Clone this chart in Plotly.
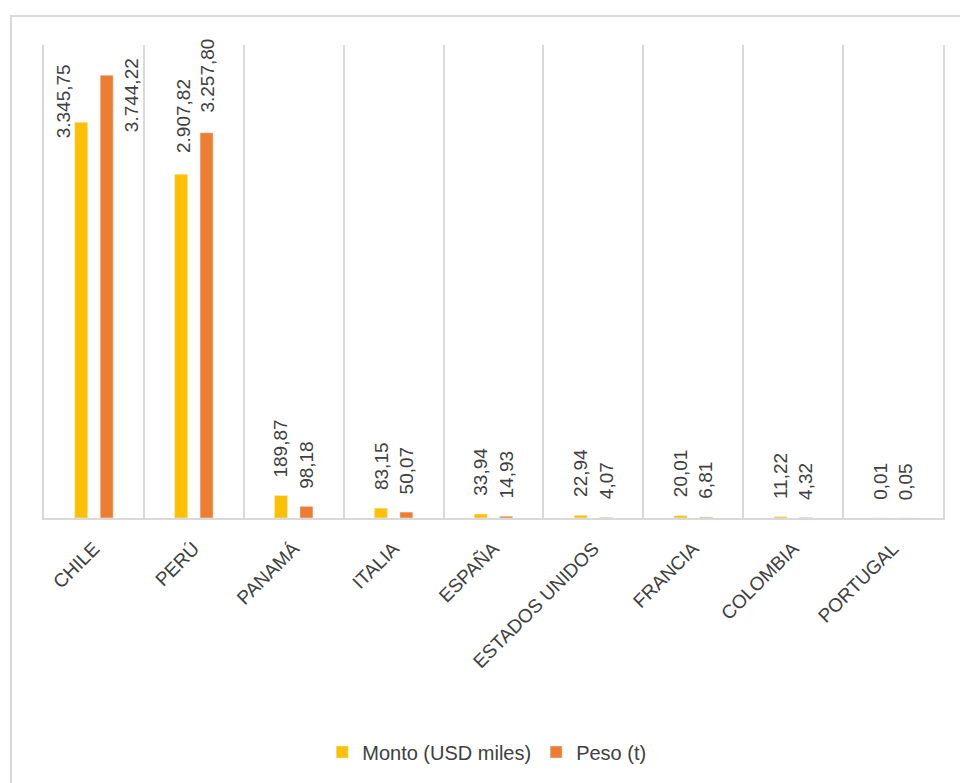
import plotly.graph_objects as go

categories = ["CHILE", "PERÚ", "PANAMÁ", "ITALIA", "ESPAÑA", "ESTADOS UNIDOS", "FRANCIA", "COLOMBIA", "PORTUGAL"]
monto = [3345.75, 2907.82, 189.87, 83.15, 33.94, 22.94, 20.01, 11.22, 0.01]
peso = [3744.22, 3257.80, 98.18, 50.07, 14.93, 4.07, 6.81, 4.32, 0.05]
monto_name = "Monto (USD miles)"
peso_name = "Peso (t)"

YELLOW = "#FFC000"
ORANGE = "#ED7D31"
GRID = "#D9D9D9"
TEXT = "#404040"
FONT = "Liberation Sans, Arial, sans-serif"


def fmt(v):
    s = f"{v:,.2f}"
    return s.replace(",", "X").replace(".", ",").replace("X", ".")


fig = go.Figure()
fig.add_trace(go.Bar(x=categories, y=monto, name=monto_name, marker_color=YELLOW))
fig.add_trace(go.Bar(x=categories, y=peso, name=peso_name, marker_color=ORANGE))

# data labels (default: above each bar; first two categories placed beside bars)
bar_dx = {0: -12.75, 1: 12.75}
custom = {  # (series, category) -> (xshift from category centre, yshift from bar top)
    (0, 0): (-31, 21), (1, 0): (37, -20),
    (0, 1): (-11, 58), (1, 1): (14, 57),
}
annotations = []
for s, vals in enumerate([monto, peso]):
    for i, v in enumerate(vals):
        if (s, i) in custom:
            dx, dy = custom[(s, i)]
            ya = "middle"
        else:
            dx, dy = bar_dx[s], 16
            ya = "bottom"
        annotations.append(dict(
            x=categories[i], y=v, xref="x", yref="y", text=fmt(v), showarrow=False,
            textangle=-90, xanchor="center", yanchor=ya, xshift=dx, yshift=dy,
            font=dict(family=FONT, size=19, color=TEXT)))

fig.update_layout(
    width=960, height=783,
    margin=dict(l=44, r=17, t=45, b=265),
    paper_bgcolor="white", plot_bgcolor="white",
    barmode="group", bargap=0.49, bargroupgap=0.49,
    showlegend=True,
    legend=dict(orientation="h", xref="container", yref="container", x=0.507, y=0.0396,
                xanchor="center", yanchor="middle",
                font=dict(family=FONT, size=20, color=TEXT)),
    annotations=annotations,
    shapes=[dict(type="rect", xref="paper", yref="paper", x0=-0.0367, x1=1.2, y0=-1.0, y1=1.0613,
                 line=dict(color=GRID, width=2), fillcolor="rgba(0,0,0,0)", layer="below")],
)
fig.update_xaxes(type="category", tickson="boundaries", showgrid=True, gridcolor=GRID, gridwidth=2,
                 showline=True, linecolor=GRID, linewidth=2, ticks="", tickangle=-45,
                 ticklabelstandoff=10,
                 tickfont=dict(family=FONT, size=19, color=TEXT))
fig.update_yaxes(range=[0, 4000], showgrid=False, zeroline=False, showticklabels=False,
                 showline=True, mirror=True, linecolor=GRID, linewidth=2, ticks="")

fig.write_html("out.html")
